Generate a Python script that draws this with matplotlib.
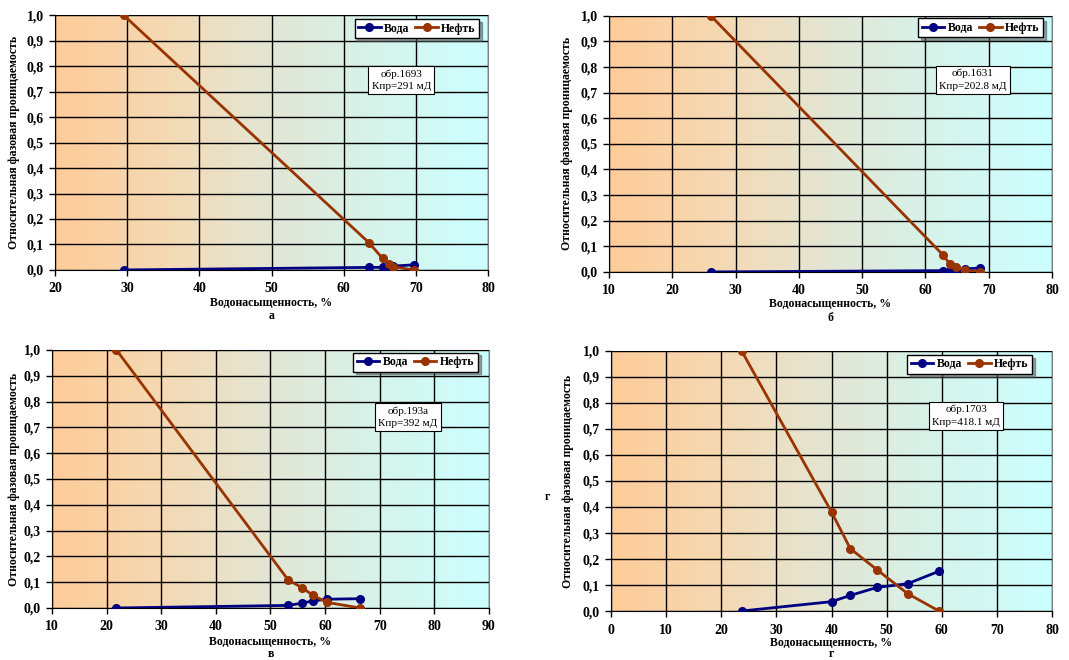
import numpy as np
import matplotlib.pyplot as plt
from matplotlib.colors import LinearSegmentedColormap
from matplotlib.ticker import FuncFormatter

plt.rcParams['font.family'] = ['Liberation Serif', 'DejaVu Serif']

# panel а
sw_a = [29.5, 63.5, 65.4, 66.3, 66.8, 69.7]
kw_a = [0.0, 0.010, 0.010, 0.015, 0.015, 0.020]
ko_a = [1.0, 0.107, 0.045, 0.025, 0.013, 0.0]
# panel б
sw_b = [26.1, 62.7, 63.9, 64.8, 66.2, 68.6]
kw_b = [0.0, 0.005, 0.005, 0.008, 0.012, 0.015]
ko_b = [1.0, 0.068, 0.030, 0.018, 0.008, 0.0]
# panel в
sw_v = [21.8, 53.3, 55.8, 57.7, 60.3, 66.4]
kw_v = [0.0, 0.010, 0.019, 0.027, 0.034, 0.036]
ko_v = [1.0, 0.107, 0.079, 0.050, 0.022, 0.0]
# panel г
sw_g = [23.7, 40.0, 43.4, 48.3, 53.8, 59.5]
kw_g = [0.0, 0.036, 0.060, 0.091, 0.105, 0.153]
ko_g = [1.0, 0.381, 0.240, 0.158, 0.067, 0.0]

panels = [
    dict(sw=sw_a, kw=kw_a, ko=ko_a, xlim=(20, 80), letter='а', note='обр.1693\nКпр=291 мД',
         rect=[0.0515, 0.591, 0.405, 0.386], note_xy=(0.80, 0.745), leg=(0.98, 0.985),
         ylab_x=0.013, xlab_y=0.541, let_y=0.521),
    dict(sw=sw_b, kw=kw_b, ko=ko_b, xlim=(10, 80), letter='б', note='обр.1631\nКпр=202.8 мД',
         rect=[0.5697, 0.588, 0.4144, 0.388], note_xy=(0.821, 0.75), leg=(0.98, 0.99),
         ylab_x=0.530, xlab_y=0.539, let_y=0.518),
    dict(sw=sw_v, kw=kw_v, ko=ko_v, xlim=(10, 90), letter='в', note='обр.193а\nКпр=392 мД',
         rect=[0.0486, 0.0788, 0.4088, 0.391], note_xy=(0.815, 0.74), leg=(0.975, 0.99),
         ylab_x=0.013, xlab_y=0.028, let_y=0.009),
    dict(sw=sw_g, kw=kw_g, ko=ko_g, xlim=(0, 80), letter='г', note='обр.1703\nКпр=418.1 мД',
         rect=[0.5716, 0.0742, 0.4125, 0.394], note_xy=(0.805, 0.75), leg=(0.955, 0.985),
         ylab_x=0.531, xlab_y=0.026, let_y=0.009),
]

bg = LinearSegmentedColormap.from_list('bg', ['#ffcc99', '#f5d9b3', '#e3e6d4', '#d6f4ec', '#ccffff'])
grad = np.linspace(0, 1, 256).reshape(1, -1)

fig = plt.figure(figsize=(10.69, 6.6), dpi=100)

for p in panels:
    ax = fig.add_axes(p['rect'])
    x0, x1 = p['xlim']
    ax.imshow(grad, cmap=bg, aspect='auto', extent=[x0, x1, 0, 1], zorder=0)
    ax.set_xlim(x0, x1)
    ax.set_ylim(0, 1)
    ax.set_xticks(np.arange(x0, x1 + 1, 10))
    ax.set_yticks(np.arange(0, 1.01, 0.1))
    ax.yaxis.set_major_formatter(FuncFormatter(lambda v, pos: f'{v:.1f}'.replace('.', ',')))
    ax.grid(True, color='black', lw=1.0, zorder=1)
    ax.set_axisbelow(False)
    for lab in ax.get_xticklabels() + ax.get_yticklabels():
        lab.set_fontweight('bold')
        lab.set_fontsize(10)
    ax.tick_params(axis='x', direction='out', length=4, width=1, color='black', pad=5)
    ax.tick_params(axis='y', direction='out', length=4, width=1, color='black', pad=4)
    for s in ['top', 'right']:
        ax.spines[s].set_color('#808080')
    for s in ['left', 'bottom']:
        ax.spines[s].set_color('black')

    ax.plot(p['sw'], p['kw'], color='#000080', lw=2, marker='o', ms=5.5, label='Вода', zorder=3)
    ax.plot(p['sw'], p['ko'], color='#993300', lw=2, marker='o', ms=5.5, label='Нефть', zorder=4)

    leg = ax.legend(loc='upper right', bbox_to_anchor=p['leg'], ncol=2, frameon=True, fancybox=False,
                    shadow=True, prop=dict(weight='bold', size=8.5), handlelength=1.9,
                    columnspacing=0.5, handletextpad=0.3, borderpad=0.3, borderaxespad=0)
    leg.get_frame().set_edgecolor('black')
    leg.get_frame().set_facecolor('white')
    leg.get_frame().set_alpha(1)
    leg.set_zorder(6)

    ax.text(p['note_xy'][0], p['note_xy'][1], p['note'], transform=ax.transAxes, ha='center',
            va='center', fontsize=8, linespacing=1.5, zorder=6,
            bbox=dict(boxstyle='square,pad=0.3', fc='white', ec='black', lw=0.8))

    cx = p['rect'][0] + p['rect'][2] / 2
    fig.text(cx, p['xlab_y'], 'Водонасыщенность, %', ha='center', va='center',
             fontsize=8.5, fontweight='bold')
    fig.text(cx, p['let_y'], p['letter'], ha='center', va='center', fontsize=8.5, fontweight='bold')
    cy = p['rect'][1] + p['rect'][3] / 2
    fig.text(p['ylab_x'], cy, 'Относительная фазовая проницаемость', rotation=90,
             ha='center', va='center', fontsize=8.5, fontweight='bold')

fig.text(547 / 1069, 1 - 497 / 660, 'г', ha='center', va='center', fontsize=8.5, fontweight='bold')

fig.savefig('out.png', dpi=100)
